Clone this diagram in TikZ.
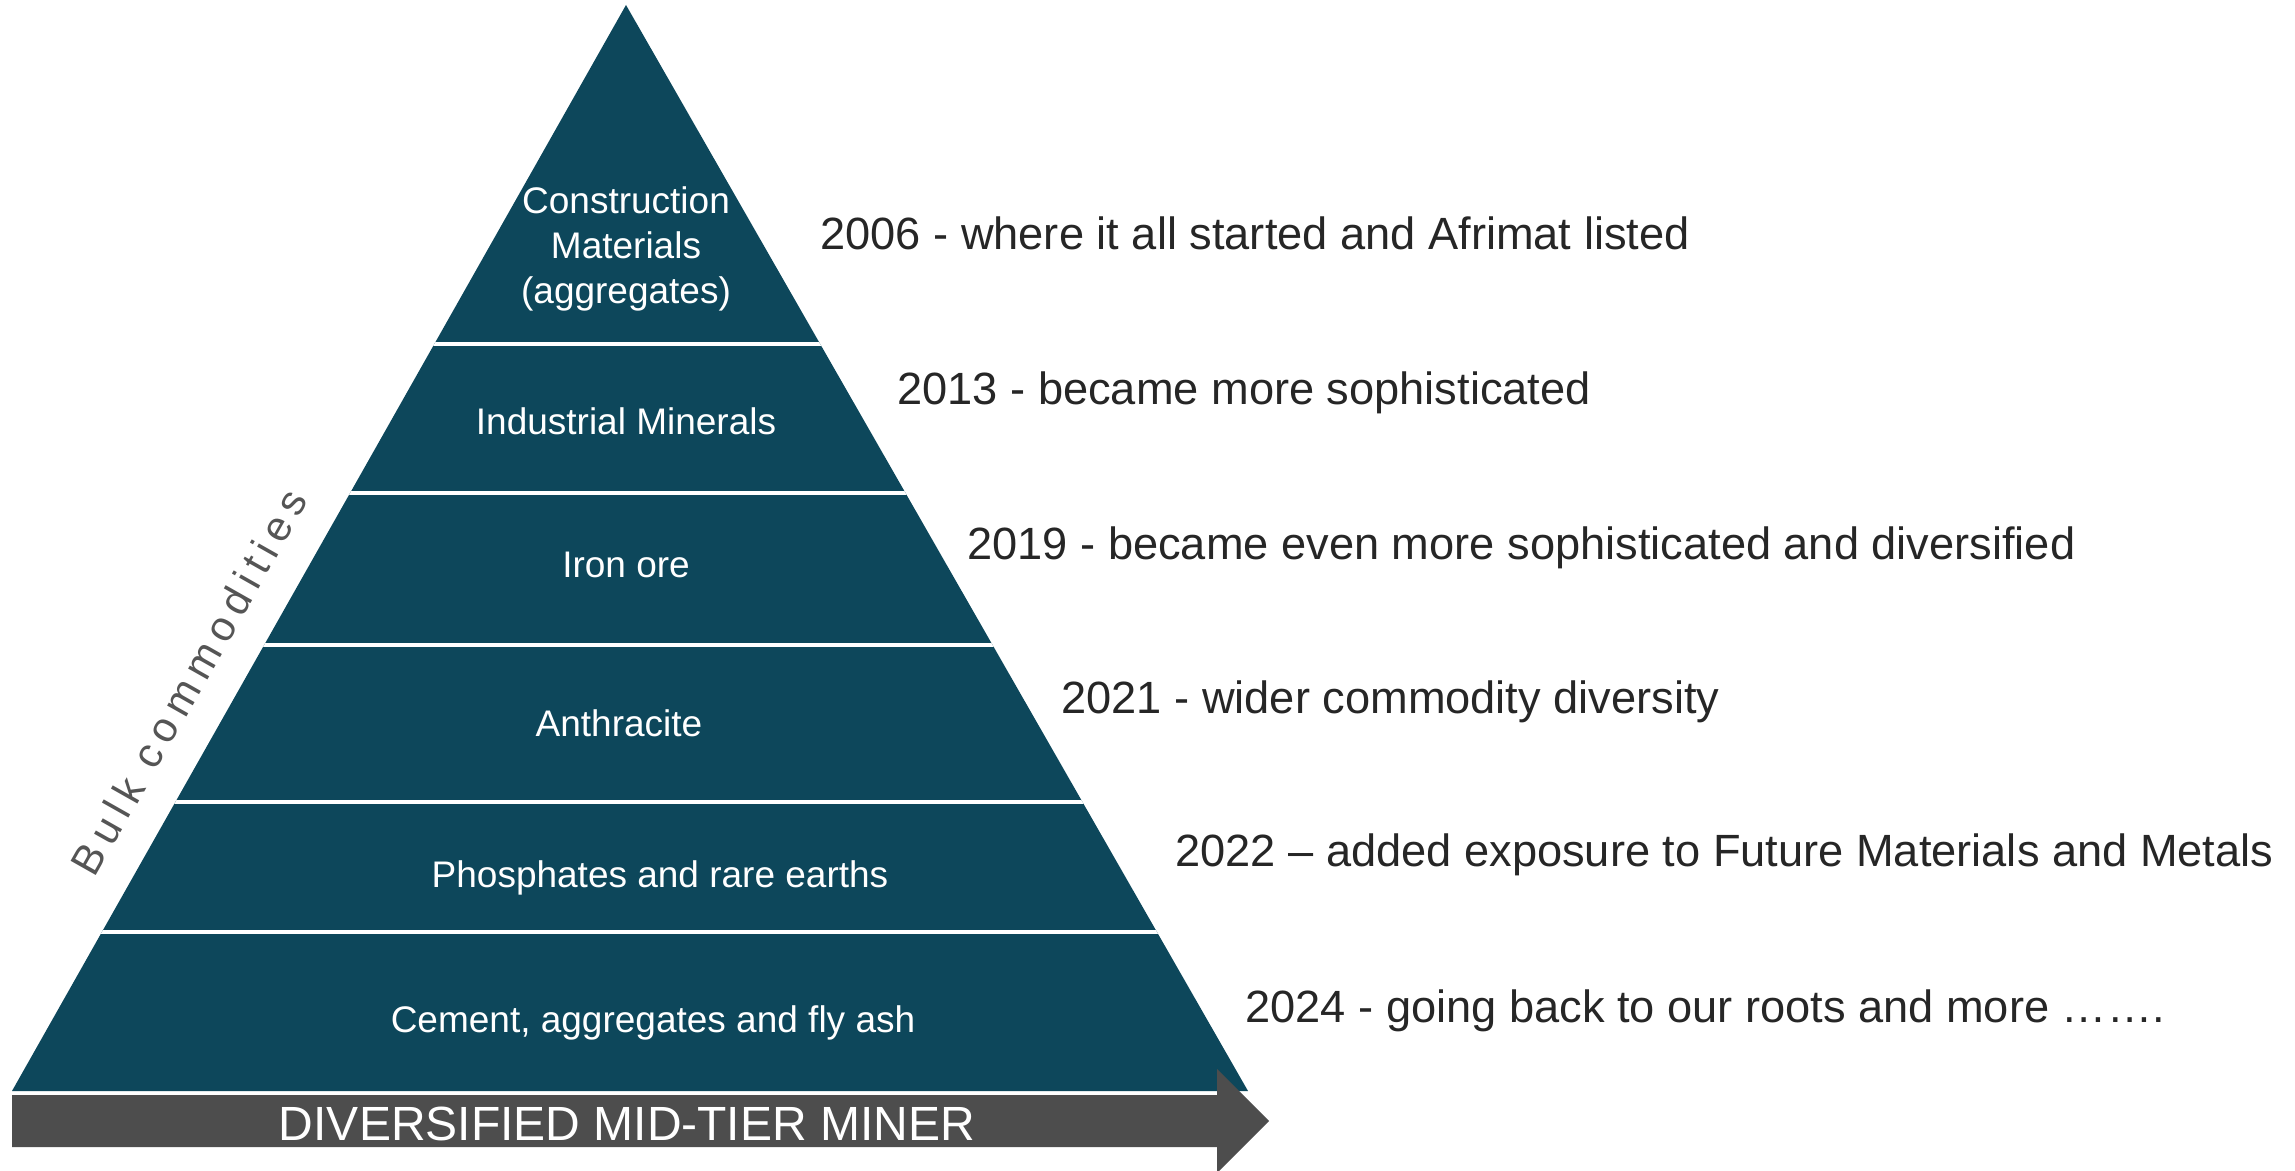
\documentclass[tikz,border=0pt]{standalone}
\usepackage{fontspec}
\setmainfont{Liberation Sans}
\newfontfamily\spacedfont[LetterSpace=18]{Liberation Sans}

\definecolor{pyrfill}{HTML}{0D475B}
\definecolor{arrowgray}{HTML}{4D4D4D}
\definecolor{notecol}{HTML}{262626}
\definecolor{bulkgray}{HTML}{555555}

\begin{document}
\begin{tikzpicture}[x=0.5pt,y=-0.5pt,
  layer/.style={text=white, font=\fontsize{18.5}{22.5}\selectfont, inner sep=0, align=center},
  note/.style={text=notecol, font=\fontsize{22.6}{27}\selectfont, anchor=base west, inner sep=0},
  divider/.style={white, line width=2pt}]
\useasboundingbox (0,0) rectangle (2295,1171);

% pyramid body
\coordinate (apex) at (626,5);
\coordinate (bl) at (12,1091);
\coordinate (br) at (1248,1091);
\fill[pyrfill] (apex) -- (br) -- (bl) -- cycle;

% white dividers between the tiers
\begin{scope}
  \clip (apex) -- (br) -- (bl) -- cycle;
  \foreach \yy in {344,493,645,802,932}
    \draw[divider] (0,\yy) -- (1300,\yy);
\end{scope}

% tier labels
\node[layer, anchor=base] (t1a) at (626,214) {Construction};
\node[layer, anchor=base] (t1b) at (626,259) {Materials};
\node[layer, anchor=base] (t1c) at (626,304) {(aggregates)};
\node[layer, anchor=base] (t2) at (626,434) {Industrial Minerals};
\node[layer, anchor=base] (t3) at (626,577) {Iron ore};
\node[layer, anchor=base] (t4) at (619,736) {Anthracite};
\node[layer, anchor=base] (t5) at (660,887) {Phosphates and rare earths};
\node[layer, anchor=base] (t6) at (653,1032) {Cement, aggregates and fly ash};

% side label along the left edge
\node[rotate=60.5, text=bulkgray, inner sep=0,
      font=\spacedfont\fontsize{21}{25}\selectfont] (bulk) at (189,682) {Bulk commodities};

% timeline notes
\node[note] (n1) at (820,250) {2006 - where it all started and Afrimat listed};
\node[note] (n2) at (897,404) {2013 - became more sophisticated};
\node[note] (n3) at (967,559) {2019 - became even more sophisticated and diversified};
\node[note] (n4) at (1061,713) {2021 - wider commodity diversity};
\node[note] (n5) at (1175,866) {2022 – added exposure to Future Materials and Metals};
\node[note] (n6) at (1245,1022) {2024 - going back to our roots and more …….};

% bottom arrow
\fill[arrowgray] (12,1095) -- (1217,1095) -- (1217,1069) -- (1269,1121)
  -- (1217,1173) -- (1217,1147) -- (12,1147) -- cycle;
\node[text=white, inner sep=0, anchor=base, font=\fontsize{24}{28}\selectfont]
  (miner) at (627,1140) {DIVERSIFIED MID-TIER MINER};
\end{tikzpicture}
\end{document}
